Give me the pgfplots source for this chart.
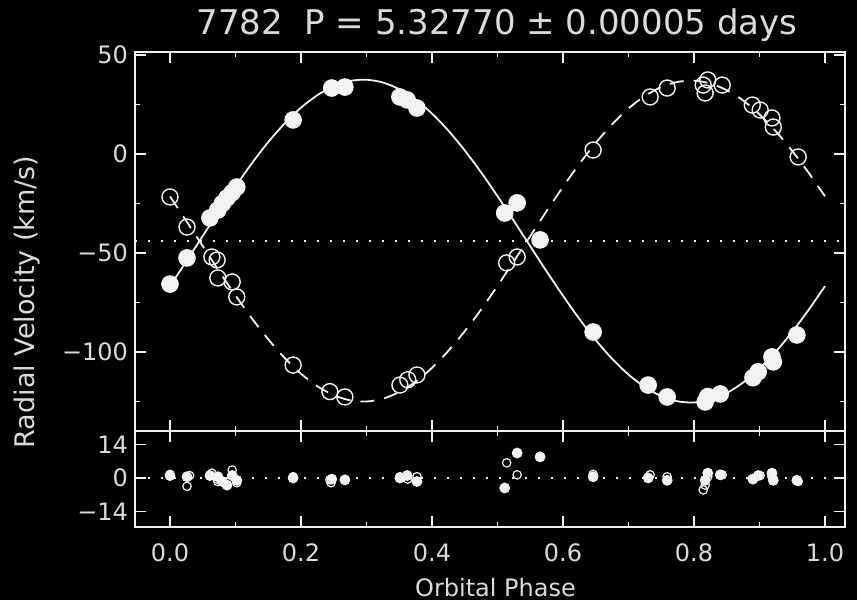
\documentclass[border=0pt]{standalone}
\usepackage{pgfplots}
\pgfplotsset{compat=1.18}
\usepackage{fontspec}
\setmainfont{DejaVu Sans}
\definecolor{fg}{gray}{0.86}
\definecolor{ln}{gray}{0.95}
\pgfplotsset{
  rvbase/.style={
    scale only axis,
    width=355pt,
    xmin=-0.0534, xmax=1.0305,
    axis line style={ln, line width=1pt},
    tick style={ln, line width=0.8pt},
    minor tick style={ln, line width=0.8pt},
    tick align=inside,
    major tick length=5.5pt,
    minor tick length=2.7pt,
    xtick={0,0.2,0.4,0.6,0.8,1.0},
    minor xtick={0.1,0.3,0.5,0.7,0.9},
    tick label style={font=\fontsize{12}{14}\selectfont, text=fg},
    xticklabel style={yshift=-5pt},
    axis background/.style={fill=black},
  },
  filledmk/.style={only marks, mark=*, mark size=4.2pt, mark options={fill=ln, draw=ln, line width=0.4pt}},
  openmk/.style={only marks, mark=o, mark size=4pt, mark options={draw=ln, fill=none, line width=0.7pt}},
  filledsm/.style={only marks, mark=*, mark size=2.5pt, mark options={fill=ln, draw=ln, line width=0.4pt}},
  opensm/.style={only marks, mark=o, mark size=2.1pt, mark options={draw=ln, fill=none, line width=0.6pt}},
}
\begin{document}
\begin{tikzpicture}
\fill[black] (0pt,0pt) rectangle (428.5pt,-300pt);
\begin{axis}[rvbase, at={(67.5pt,-26pt)}, anchor=north west, height=189.5pt,
  ymin=-139.9, ymax=51.5, ytick={-100,-50,0,50}, yticklabels={−100,−50,0,50},
  minor ytick={-125,-75,-25,25}, xticklabels={}]
% systemic velocity
\addplot[ln, line width=1pt, dash pattern=on 1.2pt off 5.3pt] coordinates {(-0.0534,-44) (1.0305,-44)};
% primary orbit (solid)
\addplot[ln, line width=0.9pt, smooth] coordinates {
(0,-66.7) (0.025,-54.2) (0.05,-41.4) (0.075,-28.7) (0.1,-16.4) (0.125,-4.7)
(0.15,6.0) (0.175,15.4) (0.2,23.4) (0.225,29.7) (0.25,34.3) (0.275,36.9)
(0.3,37.5) (0.325,36.1) (0.35,32.7) (0.375,27.4) (0.4,20.4) (0.425,11.8)
(0.45,1.8) (0.475,-9.3) (0.5,-21.3) (0.525,-33.8) (0.55,-46.6) (0.575,-59.3)
(0.6,-71.6) (0.625,-83.3) (0.65,-94.0) (0.675,-103.4) (0.7,-111.4) (0.725,-117.7)
(0.75,-122.3) (0.775,-124.9) (0.8,-125.5) (0.825,-124.1) (0.85,-120.7) (0.875,-115.4)
(0.9,-108.4) (0.925,-99.8) (0.95,-89.8) (0.975,-78.7) (1.0,-66.7)};
% secondary orbit (dashed)
\addplot[ln, line width=0.9pt, smooth, dash pattern=on 7pt off 5pt] coordinates {
(0,-21.4) (0.025,-33.9) (0.05,-46.5) (0.075,-59.2) (0.1,-71.4) (0.125,-83.0)
(0.15,-93.6) (0.175,-103.0) (0.2,-111.0) (0.225,-117.3) (0.25,-121.8) (0.275,-124.4)
(0.3,-125.0) (0.325,-123.6) (0.35,-120.2) (0.375,-115.0) (0.4,-108.0) (0.425,-99.4)
(0.45,-89.5) (0.475,-78.5) (0.5,-66.6) (0.525,-54.1) (0.55,-41.5) (0.575,-28.8)
(0.6,-16.6) (0.625,-5.0) (0.65,5.6) (0.675,15.0) (0.7,23.0) (0.725,29.3)
(0.75,33.8) (0.775,36.4) (0.8,37.0) (0.825,35.6) (0.85,32.2) (0.875,27.0)
(0.9,20.0) (0.925,11.4) (0.95,1.5) (0.975,-9.5) (1.0,-21.4)};
% primary observations
\addplot[filledmk] coordinates {
(0.000,-65.7) (0.026,-52.5) (0.061,-32.3) (0.073,-28.3) (0.080,-25.0) (0.087,-22.2)
(0.095,-19.5) (0.102,-16.7) (0.188,17.2) (0.247,33.3) (0.267,33.8) (0.351,28.8)
(0.362,27.3) (0.377,23.2) (0.511,-29.8) (0.530,-24.7) (0.565,-43.4) (0.646,-89.9)
(0.730,-116.7) (0.759,-122.7) (0.817,-125.2) (0.821,-122.5) (0.840,-121.2) (0.890,-113.0)
(0.898,-110.0) (0.919,-102.5) (0.921,-105.0) (0.957,-91.4)};
% secondary observations
\addplot[openmk] coordinates {
(0.000,-21.7) (0.026,-36.9) (0.064,-52.0) (0.072,-53.5) (0.073,-62.6) (0.095,-64.6)
(0.102,-72.2) (0.188,-106.6) (0.244,-120.0) (0.267,-122.7) (0.351,-116.7) (0.363,-114.0)
(0.377,-111.6) (0.514,-55.0) (0.530,-52.0) (0.646,2.0) (0.733,28.8) (0.759,33.3)
(0.814,34.8) (0.817,30.8) (0.821,37.4) (0.843,34.8) (0.889,24.7) (0.901,22.2)
(0.919,18.2) (0.921,13.6) (0.959,-1.5)};
\end{axis}
\begin{axis}[rvbase, at={(67.5pt,-215.5pt)}, anchor=north west, height=48pt,
  ymin=-20.5, ymax=19.6, ytick={-14,0,14}, yticklabels={−14,0,14},
  xticklabels={0.0,0.2,0.4,0.6,0.8,1.0}]
\addplot[ln, line width=1pt, dash pattern=on 1.2pt off 5.3pt] coordinates {(-0.0534,0) (1.0305,0)};
\addplot[filledsm] coordinates {
(0.000,1.0) (0.026,0.5) (0.061,1.0) (0.073,0.5) (0.080,-1.5) (0.087,-3.0)
(0.095,1.0) (0.102,-1.0) (0.188,0) (0.247,-0.5) (0.267,-0.8) (0.351,0)
(0.362,1.0) (0.377,-1.5) (0.511,-4.2) (0.530,10.4) (0.565,8.8) (0.646,0.5)
(0.730,0) (0.759,-1.0) (0.817,-1.0) (0.821,2.0) (0.840,1.3) (0.890,-0.5)
(0.898,1.0) (0.919,2.0) (0.921,-1.0) (0.957,-1.0)};
\addplot[opensm] coordinates {
(0.000,1.5) (0.026,-3.5) (0.030,1.0) (0.064,2.0) (0.072,-0.5) (0.073,-1.5)
(0.095,3.3) (0.102,-2.0) (0.188,0.5) (0.244,-0.8) (0.246,-2.0) (0.351,0.5)
(0.363,-0.5) (0.377,0.5) (0.514,6.3) (0.530,1.3) (0.646,1.5) (0.733,1.3)
(0.759,0.5) (0.814,-5.0) (0.817,-3.0) (0.821,0.5) (0.843,1.3) (0.889,-0.3)
(0.901,1.0) (0.919,0.5) (0.921,-0.5) (0.959,-1.5)};
\end{axis}
\node[text=fg, font=\fontsize{17}{20}\selectfont] at (248.5pt,-12.5pt) {7782\ \ P = 5.32770 ± 0.00005 days};
\node[text=fg, font=\fontsize{13.5}{16}\selectfont, rotate=90] at (13.5pt,-151pt) {Radial Velocity (km/s)};
\node[text=fg, font=\fontsize{12}{14}\selectfont] at (247.75pt,-294pt) {Orbital Phase};
\pgfresetboundingbox
\useasboundingbox (0pt,0pt) rectangle (428.5pt,-300pt);
\end{tikzpicture}
\end{document}
